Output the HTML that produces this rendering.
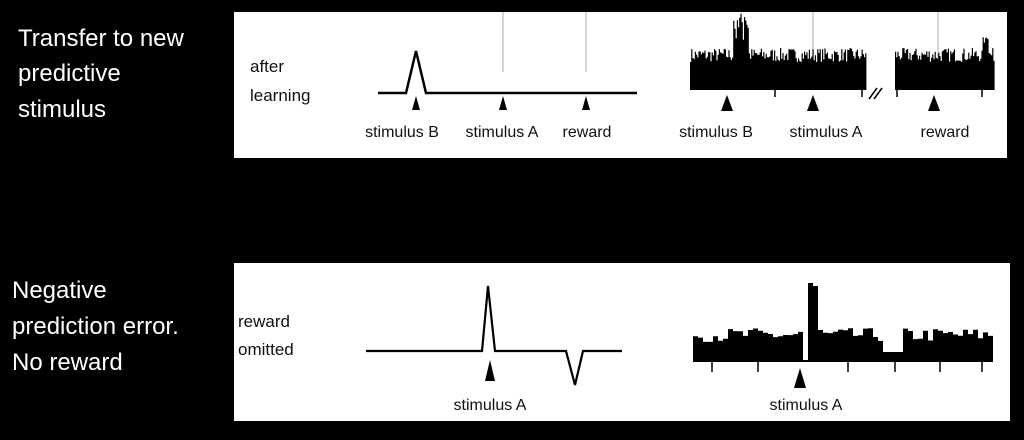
<!DOCTYPE html>
<html><head><style>
body{margin:0;background:#000;width:1024px;height:440px;overflow:hidden}
svg{display:block}
text{font-family:"Liberation Sans",Arial,sans-serif}
</style></head><body>
<svg id="s" width="1024" height="440" xmlns="http://www.w3.org/2000/svg">
<rect width="1024" height="440" fill="#000"/>
<g fill="#fff" font-size="24">
<text x="18" y="46">Transfer to new</text>
<text x="18" y="81">predictive</text>
<text x="18" y="117">stimulus</text>
<text x="12" y="298">Negative</text>
<text x="12" y="334">prediction error.</text>
<text x="12" y="370">No reward</text>
</g>
<rect x="234" y="12" width="773" height="146" fill="#fff"/>
<rect x="234" y="263" width="776" height="158" fill="#fff"/>
<g font-size="17" fill="#111">
<text x="250" y="72">after</text>
<text x="250" y="101">learning</text>
<text x="238" y="327">reward</text>
<text x="238" y="355">omitted</text>
</g>
<g stroke="#bbb" stroke-width="1.2">
<line x1="503" y1="12" x2="503" y2="72"/><line x1="586" y1="12" x2="586" y2="72"/>
<line x1="813" y1="12" x2="813" y2="60"/><line x1="938" y1="12" x2="938" y2="60"/>
</g>
<path d="M378 93 H406 L416 51 L426 93 H637" fill="none" stroke="#000" stroke-width="2.5"/>
<path d="M366 351 H482 L488 286 L495 351 H566 L575 385 L583 351 H622" fill="none" stroke="#000" stroke-width="2.2"/>
<g fill="#000">
<path d="M412 110 L416 96 L420 110Z"/><path d="M499 110 L503 96 L507 110Z"/><path d="M582 110 L586 96 L590 110Z"/>
<path d="M721 111 L727 95 L733 111Z"/><path d="M807 111 L813 95 L819 111Z"/><path d="M928 111 L934 95 L940 111Z"/>
<path d="M485 381 L490 360 L495 381Z"/><path d="M794 388 L800 368 L806 388Z"/>
</g>
<g font-size="16" fill="#111" text-anchor="middle">
<text x="402" y="137">stimulus B</text><text x="502" y="137">stimulus A</text><text x="587" y="137">reward</text>
<text x="716" y="137">stimulus B</text><text x="826" y="137">stimulus A</text><text x="945" y="137">reward</text>
<text x="490" y="410">stimulus A</text><text x="806" y="410">stimulus A</text>
</g>
<g stroke="#000" stroke-width="1.5">
<line x1="869" y1="99" x2="877" y2="88"/><line x1="874" y1="99" x2="882" y2="88"/>
<line x1="775" y1="90" x2="775" y2="97"/><line x1="862" y1="90" x2="862" y2="97"/>
<line x1="897" y1="90" x2="897" y2="97"/><line x1="982" y1="90" x2="982" y2="97"/>
<line x1="712" y1="362" x2="712" y2="372"/><line x1="758" y1="362" x2="758" y2="372"/>
<line x1="848" y1="362" x2="848" y2="372"/><line x1="895" y1="362" x2="895" y2="372"/>
<line x1="940" y1="362" x2="940" y2="372"/><line x1="982" y1="362" x2="982" y2="372"/>
</g>
<path id="h1" fill="#000"/><path id="h2" fill="#000"/><path id="h3" fill="#000"/>
</svg>
<script>
var seed=7;function r(){seed=(seed*16807)%2147483647;return seed/2147483647;}
function hist(id,x0,x1,base,w,f){var d="M"+x0+" "+base;for(var x=x0;x<x1;x+=w){var t=f(x);d+=" V"+t.toFixed(1)+" H"+(x+w);}d+=" V"+base+" Z";document.getElementById(id).setAttribute("d",d);}
hist("h1",690,866,90,1.2,function(x){var y=62-r()*14;if(x>733&&x<748)y=12+r()*30;return y;});
hist("h2",895,994,90,1.2,function(x){var y=62-r()*14;if(x>982&&x<988)y=35+r()*15;return y;});
hist("h3",693,993,362,5,function(x){if(x>=803&&x<808)return 360;if(x>=808&&x<813)return 283;if(x>=813&&x<818)return 286;if(x>=818&&x<823)return 330;var y=342-r()*14;if(x>880&&x<900)y=352;return y;});
</script>
</body></html>
